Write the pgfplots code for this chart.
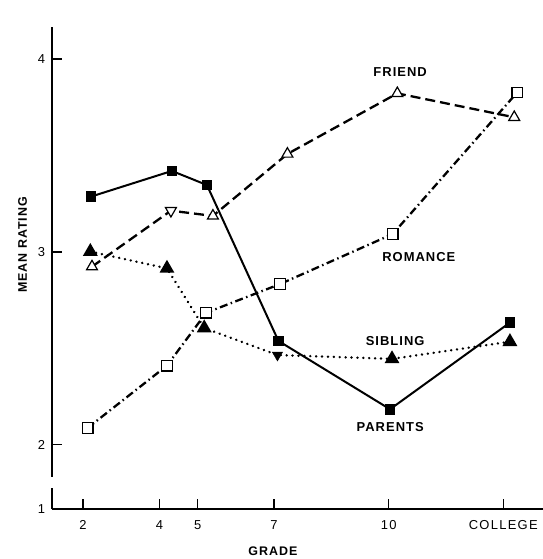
\documentclass[border=0pt]{standalone}
\usepackage{fontspec}
\setmainfont{Liberation Sans}
\newfontfamily\tickfont[LetterSpace=10]{Liberation Sans}
\newfontfamily\labfont[LetterSpace=8]{Liberation Sans}
\usepackage{pgfplots}
\pgfplotsset{compat=1.18}
\begin{document}
\begin{tikzpicture}
\useasboundingbox (0,0) rectangle (543bp,559bp);
\begin{axis}[
  at={(52bp,50bp)}, anchor=south west,
  scale only axis, width=491bp, height=482bp,
  xmin=1.188, xmax=14.04, ymin=1.668, ymax=4.166,
  clip=false,
  axis lines=left,
  axis line style={-, line width=1.3bp},
  y axis line style={draw=none},
  xtick={2,4,5,7,10,13}, xticklabels={2,4,5,7,10,COLLEGE},
  ytick={1.668,2,3,4}, yticklabels={1,2,3,4},
  tick align=inside, major tick length=10bp,
  tick style={black, line width=1.1bp},
  xticklabel style={font=\tickfont\fontsize{13}{13}\selectfont, yshift=-8bp},
  yticklabel style={font=\tickfont\fontsize{13}{13}\selectfont, xshift=-3.5bp},
  /pgf/number format/assume math mode=true,
  xlabel={GRADE}, ylabel={MEAN RATING},
  xlabel style={font=\labfont\bfseries\fontsize{12.5}{12.5}\selectfont, at={(axis description cs:0.450,-0.0886)}, anchor=center},
  ylabel style={font=\labfont\bfseries\fontsize{12.5}{12.5}\selectfont, at={(axis description cs:-0.0597,0.548)}, anchor=center},
]
% y axis with a break
\draw[line width=1.3bp] (axis cs:1.188,1.668) -- (axis cs:1.188,1.777);
\draw[line width=1.3bp] (axis cs:1.188,1.834) -- (axis cs:1.188,4.166);

% PARENTS
\addplot[black, line width=2bp, mark=square*, mark size=4.3bp, mark options={solid}]
  coordinates {(2.209,3.287) (4.327,3.420) (5.243,3.347) (7.115,2.539) (10.036,2.185) (13.174,2.634)};
% FRIEND
\addplot[black, line width=2.3bp, dash pattern=on 10bp off 5bp, mark=triangle*, mark size=6.3bp,
  mark options={solid, line width=1.2bp, fill=white}, mark indices={1,3,4,5,6}]
  coordinates {(2.235,2.924) (4.301,3.214) (5.400,3.187) (7.350,3.508) (10.227,3.822) (13.287,3.698)};
\addplot[black, only marks, mark=triangle*, mark size=6.3bp, mark options={solid, line width=1.2bp, fill=white, rotate=180}]
  coordinates {(4.301,3.214)};
% ROMANCE
\addplot[black, line width=2.3bp, dash pattern=on 8bp off 3.5bp on 1.5bp off 3.5bp, mark=square*, mark size=5.3bp,
  mark options={solid, line width=1.2bp, fill=white}]
  coordinates {(2.120,2.088) (4.197,2.411) (5.224,2.685) (7.160,2.834) (10.106,3.093) (13.365,3.827)};
% SIBLING
\addplot[black, line width=2.6bp, line cap=round, dash pattern=on 0.1bp off 5.8bp, mark=triangle*, mark size=6bp,
  mark options={solid}, mark indices={1,2,3,5,6}]
  coordinates {(2.191,3.002) (4.197,2.915) (5.172,2.606) (7.089,2.466) (10.088,2.446) (13.174,2.535)};
\addplot[black, only marks, mark=triangle*, mark size=6bp, mark options={solid, rotate=180}]
  coordinates {(7.089,2.466)};

\node[font=\labfont\bfseries\fontsize{13}{13}\selectfont] at (axis cs:10.30,3.931) {FRIEND};
\node[font=\labfont\bfseries\fontsize{13}{13}\selectfont] at (axis cs:10.79,2.976) {ROMANCE};
\node[font=\labfont\bfseries\fontsize{13}{13}\selectfont] at (axis cs:10.17,2.539) {SIBLING};
\node[font=\labfont\bfseries\fontsize{13}{13}\selectfont] at (axis cs:10.04,2.095) {PARENTS};
\end{axis}
\end{tikzpicture}
\end{document}
